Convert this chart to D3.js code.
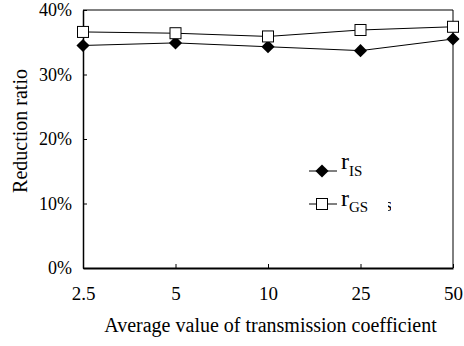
<!DOCTYPE html>
<html>
<head>
<meta charset="utf-8">
<script src="https://cdn.jsdelivr.net/npm/d3@7"></script>
<style>
  body { margin: 0; background: #fff; }
</style>
</head>
<body>
<div id="chart-area"></div>
<script>
var categories = ['2.5', '5', '10', '25', '50'];
var rIS = [34.5, 34.9, 34.3, 33.7, 35.5];
var rGS = [36.6, 36.4, 35.9, 36.9, 37.4];
var yTicks = [0, 10, 20, 30, 40];

var margin = { left: 83, right: 11, top: 10, bottom: 78 };
var width = 464 - margin.left - margin.right;
var height = 346 - margin.top - margin.bottom;
var serif = 'Liberation Serif';

var svg = d3.select('#chart-area')
  .append('svg')
  .attr('width', 464)
  .attr('height', 346)
  .attr('font-family', serif);

var g = svg.append('g')
  .attr('transform', 'translate(' + margin.left + ', ' + margin.top + ')');

// Scales
var x = d3.scalePoint()
  .domain(categories)
  .range([0, width]);

var y = d3.scaleLinear()
  .domain([0, 40])
  .range([height, 0]);

// Frame (top and right)
g.append('line')
  .attr('x1', 0).attr('x2', width)
  .attr('y1', 0).attr('y2', 0)
  .attr('stroke', '#000').attr('stroke-width', 1);
g.append('line')
  .attr('x1', width).attr('x2', width)
  .attr('y1', 0).attr('y2', height)
  .attr('stroke', '#000').attr('stroke-width', 1);

// Y Axis
var yAxis = g.append('g')
  .call(d3.axisLeft(y)
    .tickValues(yTicks)
    .tickSize(-4)
    .tickSizeOuter(0)
    .tickPadding(11)
    .tickFormat(function(d) { return d + '%'; }));
yAxis.attr('font-family', serif).attr('font-size', 18);
yAxis.select('.domain').attr('stroke-width', 1.5);
yAxis.selectAll('.tick line').attr('stroke-width', 1);

// X Axis
var xAxis = g.append('g')
  .attr('transform', 'translate(0, ' + height + ')')
  .call(d3.axisBottom(x)
    .tickSize(-4)
    .tickSizeOuter(0)
    .tickPadding(19));
xAxis.attr('font-family', serif).attr('font-size', 19);
xAxis.select('.domain').attr('stroke-width', 2);
xAxis.selectAll('.tick line').attr('stroke-width', 1);

// Labels
g.append('text')
  .attr('x', (103 + 438) / 2 - margin.left)
  .attr('y', height + 64)
  .attr('font-family', serif)
  .attr('font-size', '20px')
  .attr('text-anchor', 'middle')
  .text('Average value of transmission coefficient');

g.append('text')
  .attr('transform', 'rotate(-90)')
  .attr('x', -121)
  .attr('y', -56)
  .attr('font-family', serif)
  .attr('font-size', '20px')
  .attr('text-anchor', 'middle')
  .text('Reduction ratio');

// Lines
var line = d3.line()
  .x(function(d, i) { return x(categories[i]); })
  .y(function(d) { return y(d); });

g.append('path')
  .datum(rIS)
  .attr('d', line)
  .attr('fill', 'none')
  .attr('stroke', '#000')
  .attr('stroke-width', 1);

g.append('path')
  .datum(rGS)
  .attr('d', line)
  .attr('fill', 'none')
  .attr('stroke', '#000')
  .attr('stroke-width', 1);

var diamond = d3.symbol().type(d3.symbolDiamond2).size(110);

g.selectAll('.pt-is')
  .data(rIS)
  .enter()
  .append('path')
    .attr('class', 'pt-is')
    .attr('d', diamond)
    .attr('transform', function(d, i) {
      return 'translate(' + x(categories[i]) + ',' + y(d) + ')';
    })
    .attr('fill', '#000');

g.selectAll('.pt-gs')
  .data(rGS)
  .enter()
  .append('rect')
    .attr('class', 'pt-gs')
    .attr('x', function(d, i) { return x(categories[i]) - 5.5; })
    .attr('y', function(d) { return y(d) - 5.5; })
    .attr('width', 11)
    .attr('height', 11)
    .attr('fill', '#fff')
    .attr('stroke', '#000')
    .attr('stroke-width', 1);

// Legend
var legend = svg.append('g').attr('font-family', serif);

legend.append('line')
  .attr('x1', 309).attr('x2', 337)
  .attr('y1', 171).attr('y2', 171)
  .attr('stroke', '#000');
legend.append('path')
  .attr('d', diamond)
  .attr('transform', 'translate(322,171)')
  .attr('fill', '#000');
var t1 = legend.append('text')
  .attr('x', 341).attr('y', 169)
  .attr('font-size', '24px');
t1.append('tspan').text('r');
t1.append('tspan').attr('font-size', '15px').attr('dy', 7).text('IS');

legend.append('line')
  .attr('x1', 309).attr('x2', 337)
  .attr('y1', 204).attr('y2', 204)
  .attr('stroke', '#000');
legend.append('rect')
  .attr('x', 316.5).attr('y', 198.5)
  .attr('width', 11).attr('height', 11)
  .attr('fill', '#fff')
  .attr('stroke', '#000');
var t2 = legend.append('text')
  .attr('x', 341).attr('y', 206)
  .attr('font-size', '24px');
t2.append('tspan').text('r');
t2.append('tspan').attr('font-size', '15px').attr('dy', 6).text('GS');

// clipped stray glyph next to the legend
svg.append('clipPath')
  .attr('id', 'stray')
  .append('rect')
    .attr('x', 388).attr('y', 196)
    .attr('width', 3).attr('height', 18);
svg.append('text')
  .attr('clip-path', 'url(#stray)')
  .attr('x', 385).attr('y', 211)
  .attr('font-size', '18px')
  .text('s');
</script>
</body>
</html>
